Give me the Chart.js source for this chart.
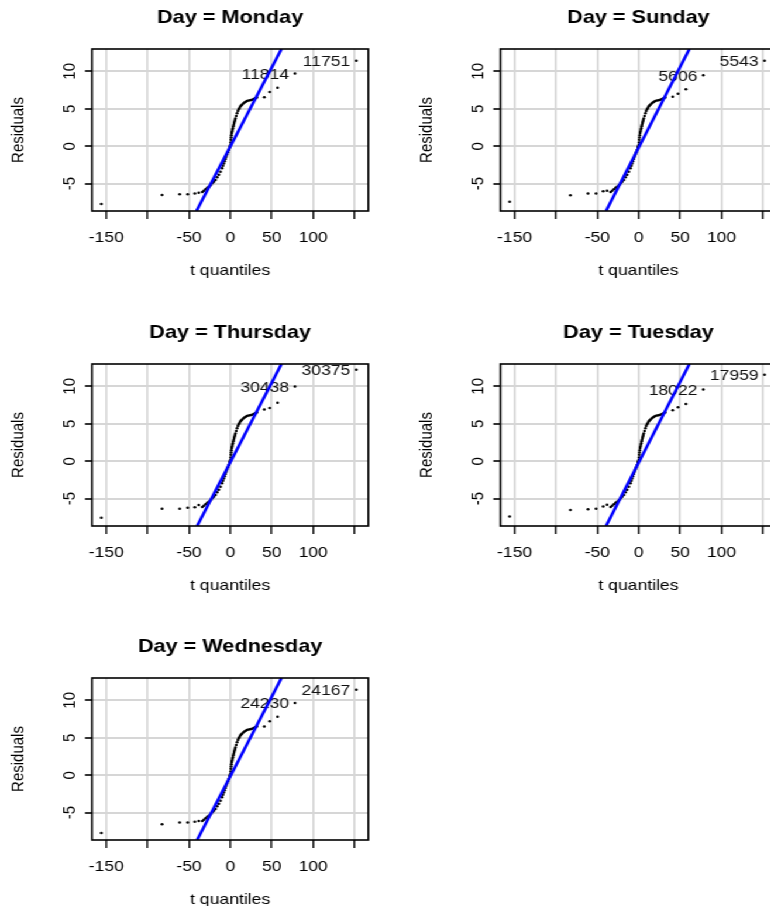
<!DOCTYPE html>
<html>
<head>
<meta charset="utf-8">
<script src="https://cdn.jsdelivr.net/npm/chart.js@4.4.1/dist/chart.umd.min.js"></script>
<style>
    html, body { margin: 0; padding: 0; background: #fff; overflow: hidden; width: 770px; height: 906px; }
    #sheet { position: absolute; left: 0; top: 0; width: 700px; height: 945px; transform: scaleX(1.17); transform-origin: 0 0; }
    #sheet canvas { position: absolute; }
</style>
</head>
<body>
<div id="sheet"></div>
<script>
// ── DATA ──
const days = ['Monday', 'Sunday', 'Thursday', 'Tuesday', 'Wednesday'];

const xTicks = [-150, -100, -50, 0, 50, 100, 150];
const xTickLabels = ['-150', '', '-50', '0', '50', '100', ''];
const yTicks = [-5, 0, 5, 10];
const yTickLabels = ['-5', '0', '5', '10'];

const xRange = [-167.2, 166.6];
const yRange = [-8.65, 12.98];

// dense middle part of the qq curve (looks the same in every panel)
const coreQuantiles = [-34, -32, -30, -28, -26, -24, -22, -20, -18, -16,
    -14, -12, -10, -9, -8, -7, -6, -5, -4, -3,
    -2, -1, -0.5, 0, 0.3, 0.6, 0.9, 1.2, 1.6, 2,
    2.5, 3, 3.5, 4, 4.5, 5, 5.5, 6, 7, 8,
    9, 10, 11, 12, 13, 14, 15.5, 17, 18.5, 20,
    22, 24, 26, 28, 30, 32];
const coreResiduals = [-6.1, -5.95, -5.75, -5.55, -5.4, -5.2, -4.95, -4.75, -4.5, -4.15,
    -3.8, -3.4, -2.95, -2.6, -2.3, -2.0, -1.7, -1.4, -1.1, -0.8,
    -0.5, -0.2, 0.0, 0.15, 0.5, 0.85, 1.15, 1.45, 1.75, 1.95,
    2.2, 2.4, 2.65, 2.85, 3.1, 3.3, 3.5, 3.7, 4.05, 4.4,
    4.7, 4.95, 5.1, 5.3, 5.45, 5.55, 5.7, 5.85, 5.95, 6.05,
    6.1, 6.15, 6.2, 6.3, 6.4, 6.5];

// tails, one row per day (same order as days)
const lowQuantiles = [-156, -82.6, -61.3, -51.6, -43, -38.3];
const lowResiduals = [
    [-7.7, -6.5, -6.4, -6.4, -6.3, -6.2],
    [-7.43, -6.54, -6.3, -6.3, -6.0, -5.95],
    [-7.56, -6.35, -6.35, -6.2, -6.15, -5.85],
    [-7.38, -6.5, -6.4, -6.35, -6.05, -5.8],
    [-7.7, -6.55, -6.3, -6.3, -6.2, -6.1]
];
const highQuantiles = [41, 47.5, 57];
const highResiduals = [
    [6.55, 7.25, 7.8],
    [6.6, 7.0, 7.6],
    [6.9, 7.1, 7.8],
    [6.8, 7.2, 7.65],
    [6.5, 7.2, 7.8]
];
const outlierQuantiles = [78, 152];
const outlierResiduals = [
    [9.7, 11.4],
    [9.48, 11.4],
    [9.97, 12.2],
    [9.57, 11.53],
    [9.65, 11.4]
];
const outlierIds = [
    ['11814', '11751'],
    ['5606', '5543'],
    ['30438', '30375'],
    ['18022', '17959'],
    ['24230', '24167']
];

// fitted qq line, where it enters and leaves the box
const lineQuantiles = [[-41, 61.7], [-39.5, 61.2], [-40.2, 61.7], [-39.5, 61.2], [-40.2, 61.7]];
const lineResiduals = [-8.65, 12.98];

// ── LAYOUT ──
const STRETCH = 1.17;              // the whole sheet is widened by css
const PANEL_W = 408 / STRETCH;
const PANEL_H = 314.5;
const CANVAS_W = 349;
const CANVAS_H = 315;
const BOX = { left: 92 / STRETCH, right: 368.3 / STRETCH, top: 49, bottom: 211 };
const X_AXIS_H = 68.5;
const FONT = '"Liberation Sans", Arial, sans-serif';

Chart.defaults.font.family = FONT;
Chart.defaults.font.size = 15;
Chart.defaults.color = '#000';

// ── BOX, TITLES, ROTATED Y LABELS, POINT IDS ──
const panelDecor = {
    id: 'panelDecor',
    beforeDatasetsDraw(chart, args, opts) {
        const { ctx, scales: { x, y } } = chart;
        const k = opts.panel;
        ctx.save();
        ctx.font = '15px ' + FONT;
        ctx.fillStyle = '#111';
        ctx.textAlign = 'right';
        ctx.textBaseline = 'middle';
        outlierQuantiles.forEach((q, j) => {
            ctx.fillText(outlierIds[k][j], x.getPixelForValue(q) - 5, y.getPixelForValue(outlierResiduals[k][j]) + 1.3);
        });
        ctx.restore();
    },
    afterDraw(chart, args, opts) {
        const { ctx, chartArea: a, scales: { y } } = chart;
        ctx.save();
        ctx.strokeStyle = '#000';
        ctx.lineWidth = 1.6;
        ctx.strokeRect(a.left, a.top, a.right - a.left, a.bottom - a.top);

        ctx.fillStyle = '#000';
        ctx.font = 'bold 18.5px ' + FONT;
        ctx.textAlign = 'center';
        ctx.textBaseline = 'middle';
        ctx.fillText('Day = ' + days[opts.panel], (a.left + a.right) / 2, 18.3);

        ctx.font = '15px ' + FONT;
        ctx.textBaseline = 'alphabetic';
        yTicks.forEach((v, j) => {
            ctx.save();
            ctx.translate(64.1, y.getPixelForValue(v));
            ctx.rotate(-Math.PI / 2);
            ctx.fillText(yTickLabels[j], 0, 0);
            ctx.restore();
        });
        ctx.restore();
    }
};

// ── PANELS ──
const sheet = document.getElementById('sheet');

days.forEach((day, i) => {
    const col = i % 2, row = Math.floor(i / 2);
    const cv = document.createElement('canvas');
    cv.width = CANVAS_W;
    cv.height = CANVAS_H;
    cv.style.left = (col * PANEL_W) + 'px';
    cv.style.top = (row * PANEL_H) + 'px';
    sheet.appendChild(cv);

    const pts = [];
    lowQuantiles.forEach((q, j) => pts.push({ x: q, y: lowResiduals[i][j] }));
    coreQuantiles.forEach((q, j) => pts.push({ x: q, y: coreResiduals[j] }));
    highQuantiles.forEach((q, j) => pts.push({ x: q, y: highResiduals[i][j] }));
    outlierQuantiles.forEach((q, j) => pts.push({ x: q, y: outlierResiduals[i][j] }));

    const lineData = lineQuantiles[i].map((q, j) => ({ x: q, y: lineResiduals[j] }));

    new Chart(cv, {
        type: 'scatter',
        data: {
            datasets: [{
                data: lineData,
                showLine: true,
                borderColor: '#0000FF',
                borderWidth: 2.6,
                pointRadius: 0,
                order: 0
            }, {
                data: pts,
                pointRadius: 1.25,
                pointBorderWidth: 0,
                pointBackgroundColor: '#000',
                order: 1
            }]
        },
        options: {
            responsive: false,
            animation: false,
            devicePixelRatio: 1,
            layout: {
                padding: { left: 0, top: BOX.top, right: CANVAS_W - BOX.right, bottom: CANVAS_H - BOX.bottom - X_AXIS_H }
            },
            plugins: {
                legend: { display: false },
                tooltip: { enabled: false },
                panelDecor: { panel: i }
            },
            scales: {
                x: {
                    type: 'linear',
                    position: 'bottom',
                    bounds: 'data',
                    min: xRange[0],
                    max: xRange[1],
                    afterBuildTicks: s => { s.ticks = xTicks.map(v => ({ value: v })); },
                    afterFit: s => { s.height = X_AXIS_H; },
                    grid: { color: '#d6d6d6', lineWidth: 1.7, tickColor: '#000', tickLength: 8, tickWidth: 1.4 },
                    border: { display: false },
                    ticks: {
                        autoSkip: false,
                        maxRotation: 0,
                        padding: 9.5,
                        callback: (v, idx) => xTickLabels[idx]
                    },
                    title: { display: true, text: 't quantiles', padding: 0 }
                },
                y: {
                    type: 'linear',
                    position: 'left',
                    bounds: 'data',
                    min: yRange[0],
                    max: yRange[1],
                    afterBuildTicks: s => { s.ticks = yTicks.map(v => ({ value: v })); },
                    afterFit: s => { s.width = BOX.left; },
                    grid: { color: '#d6d6d6', lineWidth: 2, tickColor: '#000', tickLength: 6, tickWidth: 1.6 },
                    border: { display: false },
                    ticks: { display: false },
                    title: { display: true, text: 'Residuals', padding: { top: 7, bottom: 0 } }
                }
            }
        },
        plugins: [panelDecor]
    });
});
</script>
</body>
</html>
